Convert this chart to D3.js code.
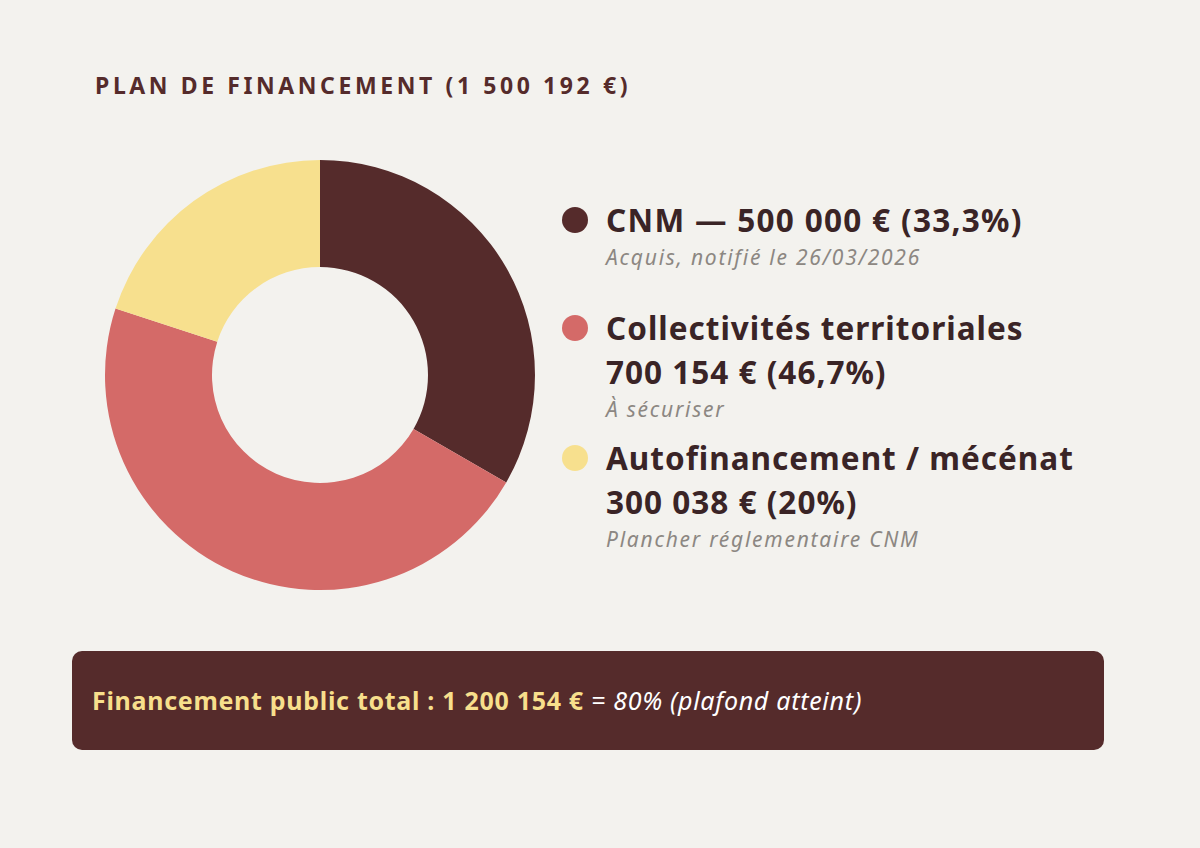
<!DOCTYPE html>
<html>
<head>
<meta charset="utf-8">
<script src="https://cdn.jsdelivr.net/npm/d3@7"></script>
<style>
  body { margin: 0; background: #f3f2ee; }
  svg { display: block; }
</style>
</head>
<body>
<svg id="chart" width="1200" height="848"></svg>
<script>
// data
var categories = ["CNM", "Collectivités territoriales", "Autofinancement / mécénat"];
var amounts = [500000, 700154, 300038];
var valueLabels = ["500 000 € (33,3%)", "700 154 € (46,7%)", "300 038 € (20%)"];
var notes = ["Acquis, notifié le 26/03/2026", "À sécuriser", "Plancher réglementaire CNM"];
var colors = ["#552b2b", "#d46a68", "#f7e08e"];

var font = "'Noto Sans', 'Open Sans', sans-serif";
var svg = d3.select("#chart");

svg.append("rect").attr("width", 1200).attr("height", 848).attr("fill", "#f3f2ee");

// title
svg.append("text")
  .attr("x", 95).attr("y", 94)
  .style("font-family", font)
  .style("font-size", "23px")
  .style("font-weight", "bold")
  .style("letter-spacing", "3.6px")
  .attr("fill", "#552b2b")
  .text("PLAN DE FINANCEMENT (1 500 192 €)");

// donut
var pie = d3.pie().sort(null).value(function (d) { return d; });
var arc = d3.arc().innerRadius(108).outerRadius(215);

svg.append("g")
  .attr("transform", "translate(320,375)")
  .selectAll("path")
  .data(pie(amounts))
  .enter()
  .append("path")
  .attr("d", arc)
  .attr("fill", function (d, i) { return colors[i]; });

// legend
var legendY = [220, 328, 458];
var legend = svg.append("g");

categories.forEach(function (c, i) {
  var y = legendY[i];
  var g = legend.append("g");
  g.append("circle").attr("cx", 575).attr("cy", y).attr("r", 13).attr("fill", colors[i]);

  var lines = i === 0 ? [c + " — " + valueLabels[i]] : [c, valueLabels[i]];
  lines.forEach(function (t, k) {
    g.append("text")
      .attr("x", 606).attr("y", y + 12 + k * 44)
      .style("font-family", font)
      .style("font-size", "31.5px")
      .style("font-weight", "bold")
      .style("letter-spacing", i === 0 ? "1.3px" : "1px")
      .attr("fill", "#3a2426")
      .text(t);
  });
  g.append("text")
    .attr("x", 606).attr("y", y + 12 + (lines.length - 1) * 44 + 33)
    .style("font-family", font)
    .style("font-size", "21px")
    .style("font-style", "italic")
    .style("letter-spacing", "1.75px")
    .attr("fill", "#8c8782")
    .text(notes[i]);
});

// banner
svg.append("rect")
  .attr("x", 72).attr("y", 651).attr("width", 1032).attr("height", 99)
  .attr("rx", 10)
  .attr("fill", "#552b2b");

var total = d3.sum(amounts.slice(0, 2));
var banner = svg.append("text")
  .attr("x", 92).attr("y", 710)
  .style("font-family", font)
  .style("font-size", "25px")
  .style("letter-spacing", "0.7px");
banner.append("tspan")
  .style("font-weight", "bold")
  .attr("fill", "#f7df8c")
  .text("Financement public total : " + d3.format(",")(total).replace(/,/g, " ") + " €");
banner.append("tspan")
  .style("font-style", "italic")
  .attr("fill", "#ffffff")
  .text(" = 80% (plafond atteint)");
</script>
</body>
</html>
